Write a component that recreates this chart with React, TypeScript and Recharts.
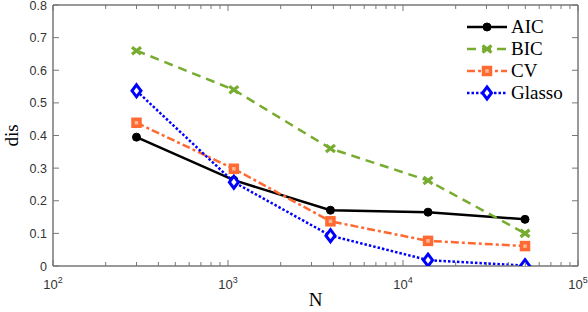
import { LineChart, Line, XAxis, YAxis, Legend } from "recharts";

const nValues = [300, 1080, 3850, 13900, 49800];
const aic = [0.395, 0.263, 0.171, 0.165, 0.143];
const bic = [0.66, 0.54, 0.36, 0.262, 0.1];
const cv = [0.439, 0.298, 0.137, 0.077, 0.061];
const glasso = [0.537, 0.257, 0.093, 0.018, 0.001];

const majorX = [100, 1000, 10000, 100000];
const xTicks = [
  100, 200, 300, 400, 500, 600, 700, 800, 900,
  1000, 2000, 3000, 4000, 5000, 6000, 7000, 8000, 9000,
  10000, 20000, 30000, 40000, 50000, 60000, 70000, 80000, 90000,
  100000,
];
const yTicks = [0, 0.1, 0.2, 0.3, 0.4, 0.5, 0.6, 0.7, 0.8];

const data = nValues.map((n, i) => ({
  n,
  AIC: aic[i],
  BIC: bic[i],
  CV: cv[i],
  Glasso: glasso[i],
}));

const AXIS = "#777";
const LABEL = "#333";
const GREEN = "#77AC30";
const ORANGE = "#FF6A33";
const BLUE = "#0000FF";
const SANS = "'Liberation Sans', Arial, sans-serif";
const SERIF = "'Liberation Serif', 'DejaVu Serif', serif";

const series = [
  { key: "AIC", color: "#000", dash: undefined, marker: "circle" },
  { key: "BIC", color: GREEN, dash: "9 6", marker: "x" },
  { key: "CV", color: ORANGE, dash: "8 3 3 3", marker: "square" },
  { key: "Glasso", color: BLUE, dash: "2.5 2", marker: "diamond" },
];

function Marker({ kind, cx, cy, color }: any) {
  if (kind === "circle") return <circle cx={cx} cy={cy} r={4} fill="#000" stroke="#000" />;
  if (kind === "x")
    return (
      <g stroke={color} strokeWidth={3.2} strokeLinecap="butt">
        <line x1={cx - 4.5} y1={cy - 3.5} x2={cx + 4.5} y2={cy + 3.5} />
        <line x1={cx - 4.5} y1={cy + 3.5} x2={cx + 4.5} y2={cy - 3.5} />
      </g>
    );
  if (kind === "square")
    return <rect x={cx - 3.5} y={cy - 3.5} width={7} height={7} fill="#ffb896" stroke={color} strokeWidth={3.5} />;
  return (
    <path
      d={`M${cx},${cy - 6} L${cx + 4.5},${cy} L${cx},${cy + 6} L${cx - 4.5},${cy} Z`}
      fill="#fff"
      stroke={color}
      strokeWidth={3}
    />
  );
}

function BottomTick({ x, y, payload }: any) {
  const major = majorX.includes(payload.value);
  return (
    <g>
      <line x1={x} y1={y} x2={x} y2={y - (major ? 6 : 4)} stroke={AXIS} />
      {major && (
        <text x={x} y={y + 23} textAnchor="middle" fill={LABEL} fontFamily={SANS} fontSize={13}>
          10
          <tspan dy={-6} fontSize={9}>
            {Math.round(Math.log10(payload.value))}
          </tspan>
        </text>
      )}
    </g>
  );
}

function TopTick({ x, y, payload }: any) {
  const major = majorX.includes(payload.value);
  return <line x1={x} y1={y} x2={x} y2={y + (major ? 6 : 4)} stroke={AXIS} />;
}

function LeftTick({ x, y, payload }: any) {
  return (
    <g>
      <line x1={x} y1={y} x2={x + 6} y2={y} stroke={AXIS} />
      <text x={x - 6} y={y} dy={4.5} textAnchor="end" fill={LABEL} fontFamily={SANS} fontSize={12.5}>
        {payload.value === 0 ? "0" : payload.value.toFixed(1)}
      </text>
    </g>
  );
}

function RightTick({ x, y }: any) {
  return <line x1={x} y1={y} x2={x - 6} y2={y} stroke={AXIS} />;
}

function LegendBox() {
  return (
    <svg width={130} height={95}>
      {series.map((s, i) => {
        const cy = 13 + i * 22;
        return (
          <g key={s.key}>
            <line x1={7} y1={cy} x2={47} y2={cy} stroke={s.color} strokeWidth={2.5} strokeDasharray={s.dash} />
            <Marker kind={s.marker} cx={27} cy={cy} color={s.color} />
            <text x={51} y={cy} dy={6} style={{ fontFamily: SERIF, fontSize: 19 }} fill="#000">
              {s.key}
            </text>
          </g>
        );
      })}
    </svg>
  );
}

export default function App() {
  return (
    <div style={{ position: "absolute", left: 0, top: 0, background: "#fff" }}>
      <LineChart width={588} height={312} data={data} margin={{ top: 4, right: 9, bottom: 0, left: 0 }}>
        <XAxis
          xAxisId="b"
          dataKey="n"
          type="number"
          scale="log"
          domain={[100, 100000]}
          allowDataOverflow
          ticks={xTicks}
          interval={0}
          height={46}
          tickSize={0}
          tickMargin={0}
          tickLine={false}
          tick={<BottomTick />}
          axisLine={{ stroke: AXIS, strokeWidth: 1.5 }}
          label={{
            content: ({ viewBox }: any) => (
              <text x={viewBox.x + viewBox.width / 2} y={viewBox.y + 40} textAnchor="middle" style={{ fontFamily: SERIF, fontSize: 19 }} fill="#000">
                N
              </text>
            ),
          }}
        />
        <XAxis
          xAxisId="t"
          orientation="top"
          dataKey="n"
          type="number"
          scale="log"
          domain={[100, 100000]}
          allowDataOverflow
          ticks={xTicks}
          interval={0}
          height={1}
          tickSize={0}
          tickMargin={0}
          tickLine={false}
          tick={<TopTick />}
          axisLine={{ stroke: AXIS, strokeWidth: 1.5 }}
        />
        <YAxis
          yAxisId="l"
          type="number"
          domain={[0, 0.8]}
          allowDataOverflow
          ticks={yTicks}
          interval={0}
          width={53}
          tickSize={0}
          tickMargin={0}
          tickLine={false}
          tick={<LeftTick />}
          axisLine={{ stroke: AXIS, strokeWidth: 1.5 }}
          label={{
            content: ({ viewBox }: any) => (
              <text
                x={18}
                y={viewBox.y + viewBox.height / 2}
                textAnchor="middle"
                style={{ fontFamily: SERIF, fontSize: 19 }}
                fill="#000"
                transform={`rotate(-90 18 ${viewBox.y + viewBox.height / 2})`}
              >
                dis
              </text>
            ),
          }}
        />
        <YAxis
          yAxisId="r"
          orientation="right"
          type="number"
          domain={[0, 0.8]}
          allowDataOverflow
          ticks={yTicks}
          interval={0}
          width={1}
          tickSize={0}
          tickMargin={0}
          tickLine={false}
          tick={<RightTick />}
          axisLine={{ stroke: AXIS, strokeWidth: 1.5 }}
        />
        {/* invisible series so the mirrored top/right axes get drawn */}
        <Line
          xAxisId="t"
          yAxisId="r"
          dataKey="AIC"
          stroke="none"
          dot={false}
          activeDot={false}
          legendType="none"
          isAnimationActive={false}
        />
        {series.map((s) => (
          <Line
            key={s.key}
            xAxisId="b"
            yAxisId="l"
            dataKey={s.key}
            stroke={s.color}
            strokeWidth={2.5}
            strokeDasharray={s.dash}
            isAnimationActive={false}
            dot={(p: any) => <Marker key={`${s.key}-${p.index}`} kind={s.marker} cx={p.cx} cy={p.cy} color={s.color} />}
            activeDot={false}
          />
        ))}
        <Legend
          layout="vertical"
          align="center"
          verticalAlign="middle"
          wrapperStyle={{ top: 14, left: 460, width: 130 }}
          content={() => <LegendBox />}
        />
      </LineChart>
    </div>
  );
}
